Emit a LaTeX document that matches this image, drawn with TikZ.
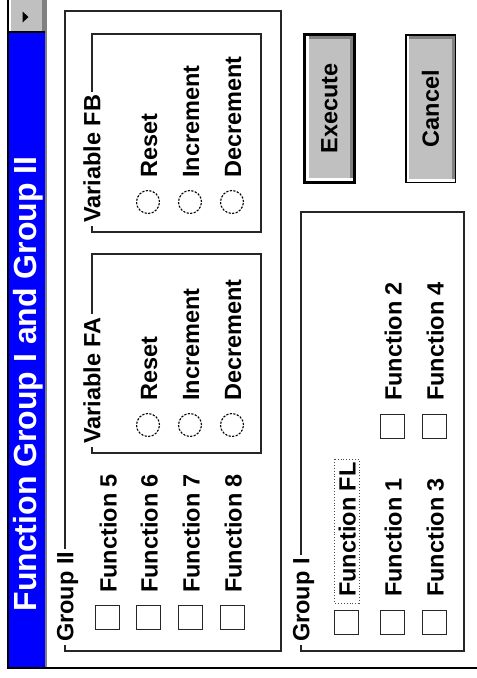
\documentclass[tikz,border=0pt]{standalone}
\usepackage{fontspec}
\setmainfont{Liberation Sans}
\definecolor{btngray}{HTML}{C0C0C0}
\definecolor{shadowgray}{HTML}{808080}
\definecolor{titleblue}{HTML}{0000FF}
\begin{document}
\begin{tikzpicture}[x=1pt,y=-1pt,
  lbl/.style={font=\bfseries\fontsize{23.5}{28}\selectfont, rotate=90, anchor=base west, inner sep=0pt},
  glabel/.style={lbl, fill=white, inner xsep=3pt},
  frame/.style={draw=black!85, line width=1.4pt},
  chk/.style={draw=black!85, line width=1.2pt, minimum size=24pt, inner sep=0pt},
  radio/.style={circle, draw=black, dash pattern=on 2.2pt off 1.4pt, line width=1.1pt, minimum size=23pt, inner sep=0pt},
  btntext/.style={font=\bfseries\fontsize{23.5}{28}\selectfont, rotate=90, inner sep=0pt}
]
\useasboundingbox (0,0) rectangle (477,678);
\fill[white] (0,0) rectangle (477,678);
% outer dialog edges
\draw[black, line width=2pt] (8,0) -- (8,668) -- (477,668);
% title bar
\fill[titleblue] (9,33) rectangle (45,667);
\draw[shadowgray, line width=1.2pt] (46,0) -- (46,667);
\node[rotate=90, text=white, font=\bfseries\fontsize{32}{36}\selectfont, inner sep=0pt] (title) at (28,384) {Function Group I and Group II};
% top button
\fill[btngray] (9,0) rectangle (45,32);
\fill[white] (9,0) rectangle (11,31);
\fill[shadowgray] (42,0) rectangle (45,31);
\draw[black, line width=1.5pt] (9,32) -- (45,32);
\fill[black] (22.5,11.5) -- (22.5,22.5) -- (28.5,17) -- cycle;

% Group II frame
\draw[frame] (65,11) rectangle (281,651);
\node[glabel] (g2) at (73.4,645) {Group II};
% Variable FB frame
\draw[frame] (92,34) rectangle (261,232);
\node[glabel] (vfb) at (100.4,226) {Variable FB};
% Variable FA frame
\draw[frame] (92,254) rectangle (261,453);
\node[glabel] (vfa) at (100.4,447) {Variable FA};
% Group I frame
\draw[frame] (301,212) rectangle (464,651);
\node[glabel] (g1) at (309.4,645) {Group I};

% Group II checkboxes
\node[chk] (c5) at (107.5,617.5) {};
\node[chk] (c6) at (148.5,617.5) {};
\node[chk] (c7) at (190.5,617.5) {};
\node[chk] (c8) at (232.5,617.5) {};
\node[lbl] (t5) at (116.5,593) {Function 5};
\node[lbl] (t6) at (157.5,593) {Function 6};
\node[lbl] (t7) at (199.5,593) {Function 7};
\node[lbl] (t8) at (241.5,593) {Function 8};

% Variable FB radios
\node[radio] (rb1) at (148,202) {};
\node[radio] (rb2) at (190,202) {};
\node[radio] (rb3) at (232,202) {};
\node[lbl] (tb1) at (157,178) {Reset};
\node[lbl] (tb2) at (199,178) {Increment};
\node[lbl] (tb3) at (241,178) {Decrement};

% Variable FA radios
\node[radio] (ra1) at (148,425) {};
\node[radio] (ra2) at (190,425) {};
\node[radio] (ra3) at (232,425) {};
\node[lbl] (ta1) at (157,401) {Reset};
\node[lbl] (ta2) at (199,401) {Increment};
\node[lbl] (ta3) at (241,401) {Decrement};

% Group I checkboxes
\node[chk] (cfl) at (346.5,622.5) {};
\node[chk] (c1) at (392.5,622.5) {};
\node[chk] (c3) at (434.5,622.5) {};
\node[chk] (c2) at (392.5,426.5) {};
\node[chk] (c4) at (434.5,426.5) {};
\node[lbl] (tfl) at (355.5,597) {Function FL};
\draw[black!70, dotted, line width=0.9pt] (334,459) rectangle (359,603);
\node[lbl] (t1) at (401.5,597) {Function 1};
\node[lbl] (t3) at (443.5,597) {Function 3};
\node[lbl] (t2) at (401.5,401) {Function 2};
\node[lbl] (t4) at (443.5,401) {Function 4};

% Execute button
\fill[black] (303,33) rectangle (356,184);
\fill[white] (306,36) rectangle (353,181);
\fill[shadowgray] (309,36) rectangle (353,178);
\fill[btngray] (309,39) rectangle (350,178);
\node[btntext] (exec) at (329.5,108.5) {Execute};
% Cancel button
\fill[black] (405,34) rectangle (456,183);
\fill[white] (406.5,35.5) rectangle (454.5,181.5);
\fill[shadowgray] (409,35.5) rectangle (454.5,179);
\fill[btngray] (409,38.5) rectangle (451.5,179);
\node[btntext] (cancel) at (430.5,108.5) {Cancel};
\end{tikzpicture}
\end{document}
